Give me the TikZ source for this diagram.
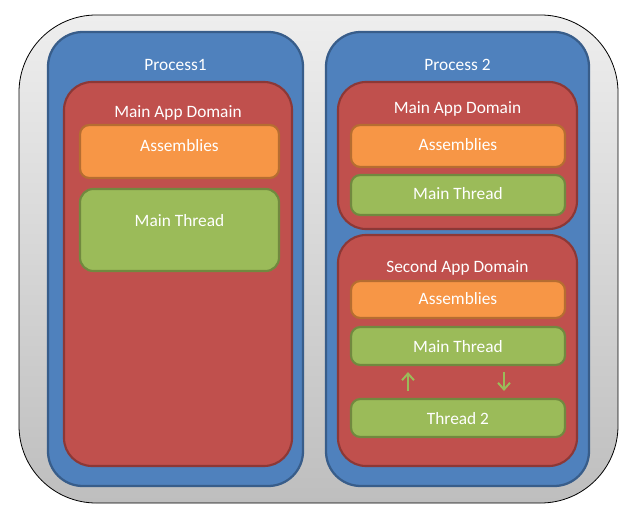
\documentclass[tikz,border=0pt]{standalone}
\usepackage{fontspec}
\setmainfont{Carlito}
\usetikzlibrary{fit,arrows.meta}
\definecolor{grayT}{HTML}{EEEEEE}
\definecolor{grayB}{HTML}{BEBEBE}
\definecolor{blueF}{HTML}{4F81BD}
\definecolor{blueB}{HTML}{385D8A}
\definecolor{redF}{HTML}{C0504D}
\definecolor{redB}{HTML}{8C3836}
\definecolor{orF}{HTML}{F79646}
\definecolor{orB}{HTML}{B66D31}
\definecolor{grF}{HTML}{9BBB59}
\definecolor{grB}{HTML}{71893F}
\begin{document}
\begin{tikzpicture}[x=0.75pt,y=-0.75pt,
  outerbox/.style={draw=black, line width=0.6pt, top color=grayT, bottom color=grayB, rounded corners=58pt, inner sep=0pt},
  procbox/.style={draw=blueB, fill=blueF, line width=1.7pt, rounded corners=26pt, inner sep=0pt},
  dombox/.style={draw=redB, fill=redF, line width=1.6pt, rounded corners=21pt, inner sep=0pt},
  asmbox/.style={draw=orB, fill=orF, line width=1.6pt, rounded corners=7pt, inner sep=0pt},
  thrbox/.style={draw=grB, fill=grF, line width=1.6pt, rounded corners=7pt, inner sep=0pt},
  lbl/.style={text=white, font=\fontsize{13}{15}\selectfont, inner sep=0pt, anchor=base},
  arr/.style={draw=grF, line width=1.5pt, -{Straight Barb[length=5pt,width=9pt]}}
]
\useasboundingbox (0,0) rectangle (633,518);
\node[outerbox, fit={(19,15) (618,503)}] (outer) {};
% Process 1
\node[procbox, fit={(48,32) (303,486)}] (p1) {};
\node[lbl] (p1l) at (175.5,70) {Process1};
\node[dombox, fit={(64,82) (292,466)}] (d1) {};
\node[lbl] (d1l) at (178,117) {Main App Domain};
\node[asmbox, fit={(80,125) (279,178)}] (a1) {};
\node[lbl] (a1l) at (179.5,151) {Assemblies};
\node[thrbox, rounded corners=10pt, fit={(80,189) (279,271)}] (m1) {};
\node[lbl] (m1l) at (179.5,226) {Main Thread};
% Process 2
\node[procbox, fit={(326,32) (589,486)}] (p2) {};
\node[lbl] (p2l) at (457.5,70) {Process 2};
\node[dombox, fit={(338,82) (577,229)}] (d2) {};
\node[lbl] (d2l) at (457.5,113.5) {Main App Domain};
\node[asmbox, fit={(351,125) (565,167)}] (a2) {};
\node[lbl] (a2l) at (458,150) {Assemblies};
\node[thrbox, fit={(351,175) (565,215)}] (m2) {};
\node[lbl] (m2l) at (458,199.5) {Main Thread};
\node[dombox, fit={(338,235) (577,466)}] (d3) {};
\node[lbl] (d3l) at (457.5,272) {Second App Domain};
\node[asmbox, fit={(351,281) (565,318)}] (a3) {};
\node[lbl] (a3l) at (458,304.5) {Assemblies};
\node[thrbox, fit={(351,327) (565,365)}] (m3) {};
\node[lbl] (m3l) at (458,352) {Main Thread};
\node[thrbox, fit={(351,399) (565,437)}] (t2) {};
\node[lbl] (t2l) at (458,424) {Thread 2};
% arrows
\coordinate (ux) at (408,380);
\coordinate (dx) at (504,380);
\draw[arr, shorten <=5.25pt, shorten >=4.5pt] (t2.north -| ux) -- (m3.south -| ux);
\draw[arr, shorten <=4.5pt, shorten >=5.25pt] (m3.south -| dx) -- (t2.north -| dx);
\end{tikzpicture}
\end{document}
